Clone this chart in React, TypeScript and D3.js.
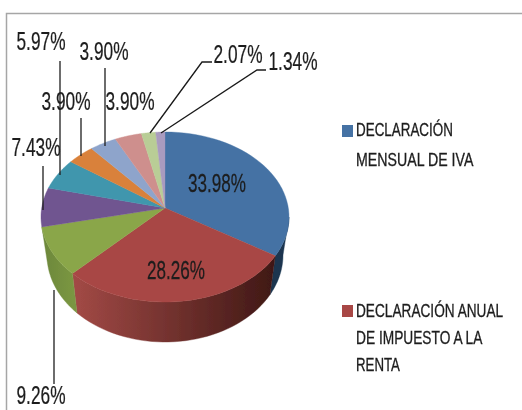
import React from "react";
import * as d3 from "d3";

const values = [33.98, 28.26, 9.26, 7.43, 5.97, 3.9, 3.9, 3.9, 2.07, 1.34];
const valueLabels = ["33.98%", "28.26%", "9.26%", "7.43%", "5.97%", "3.90%", "3.90%", "3.90%", "2.07%", "1.34%"];
const legendFirst = ["DECLARACIÓN", "MENSUAL DE IVA"];
const legendSecond = ["DECLARACIÓN ANUAL", "DE IMPUESTO A LA", "RENTA"];

const colors = ["#4472a4", "#a84744", "#8aa64a", "#6f5490", "#3f96ad", "#d9813a", "#8ea4cb", "#ce8f8d", "#b9cd96", "#a99bbf"];
const wallStops: Record<number, [string, string]> = {
  0: ["#1a3550", "#1a3550"],
  1: ["#a34a46", "#3f1815"],
  2: ["#6c873a", "#7a9642"],
};

// label placement, same order as values: centre x, centre y, leader points
const labelLayout: { x: number; y: number; leader?: [number, number][] }[] = [
  { x: 217, y: 183 },
  { x: 176, y: 270 },
  { x: 41, y: 395, leader: [[54, 290], [54, 384]] },
  { x: 36, y: 147, leader: [[43, 166], [43, 210]] },
  { x: 41, y: 41, leader: [[60, 61], [60, 175]] },
  { x: 66, y: 101, leader: [[81, 118], [81, 156]] },
  { x: 104, y: 51, leader: [[105, 68], [105, 146]] },
  { x: 130, y: 101 },
  { x: 238, y: 54, leader: [[212, 62], [202, 62], [150, 133]] },
  { x: 293, y: 61, leader: [[266, 70], [257, 70], [161, 133]] },
];

const cx = 165, cy = 217, rx = 124, ry = 85;
const bottomRim = { cx: 165, cy: 255, rx: 118, ry: 87 };
const apex: [number, number] = [165, 208];
const FONT = "'Liberation Sans',Arial,sans-serif";

const measureCtx = document.createElement("canvas").getContext("2d")!;
const xScaleFor = (text: string, size: number, target: number) => {
  measureCtx.font = `${size}px ${FONT}`;
  return target / measureCtx.measureText(text).width;
};

// perspective: a slice boundary is a ray from the off-centre apex, hitting the top ellipse
const rimParam = (a: number) => {
  const dx = Math.sin(a), dy = -Math.cos(a);
  const off = (apex[1] - cy) / ry;
  const B = 2 * dy * off;
  const C = off * off - 1;
  const t = (-B + Math.sqrt(B * B - 4 * C)) / 2;
  const b = Math.atan2(t * dx, -(off + t * dy));
  return b < -1e-9 ? b + 2 * Math.PI : Math.max(0, b);
};
const rimPoints = (b0: number, b1: number, e = { cx, cy, rx, ry }) =>
  d3.range(0, 41).map((i): [number, number] => {
    const b = b0 + ((b1 - b0) * i) / 40;
    return [e.cx + e.rx * Math.sin(b), e.cy - e.ry * Math.cos(b)];
  });

function Label(props: { text: string; x: number; y: number; size: number; width: number; anchor: string; sw: number }) {
  const { text, x, y, size, width, anchor, sw } = props;
  const sx = xScaleFor(text, size, width);
  return (
    <text
      transform={`translate(${x},${y}) scale(${sx},1)`}
      textAnchor={anchor}
      dominantBaseline="central"
      fontFamily={FONT}
      fontSize={size}
      fill="#1c1c1c"
      stroke="#1c1c1c"
      strokeWidth={sw}
    >
      {text}
    </text>
  );
}

export default function App() {
  const arcs = d3.pie<number>().sort(null).value((d) => d)(values);
  const params = arcs.map((a) => ({
    b0: rimParam(a.startAngle),
    b1: a.endAngle >= 2 * Math.PI - 1e-6 ? 2 * Math.PI : rimParam(a.endAngle),
  }));
  const line = d3.line();
  const leader = d3.line().curve(d3.curveLinear);

  const walls = params
    .map((p, i) => {
      if (!wallStops[i]) return null;
      const from = Math.max(p.b0, Math.PI / 2);
      const to = p.b1;
      const pts = [...rimPoints(from, to), ...rimPoints(from, to, bottomRim).reverse()];
      return { i, d: line(pts) + "Z", x0: rimPoints(to, to)[0][0], x1: rimPoints(from, from)[0][0] };
    })
    .filter(Boolean) as { i: number; d: string; x0: number; x1: number }[];

  return (
    <svg
      width={522}
      height={410}
      viewBox="0 0 522 410"
      style={{ position: "absolute", left: 0, top: 0, background: "#fff" }}
    >
      <defs>
        <filter id="soft" x="-5%" y="-5%" width="110%" height="110%">
          <feGaussianBlur stdDeviation="0.55" />
        </filter>
        {walls.map((w) => (
          <linearGradient key={w.i} id={`wall${w.i}`} gradientUnits="userSpaceOnUse" x1={w.x0} x2={w.x1} y1={0} y2={0}>
            <stop offset="0" stopColor={wallStops[w.i][0]} />
            <stop offset="1" stopColor={wallStops[w.i][1]} />
          </linearGradient>
        ))}
      </defs>

      <path d="M522,13.5H6.5V410" fill="none" stroke="#a6a6a6" strokeWidth={1.5} filter="url(#soft)" />
      <path d="M4.5,15V410" fill="none" stroke="#cfe0f2" strokeWidth={2} filter="url(#soft)" />

      <g filter="url(#soft)">
        {walls.map((w) => (
          <path key={w.i} d={w.d} fill={`url(#wall${w.i})`} stroke={`url(#wall${w.i})`} strokeWidth={0.4} />
        ))}
        {params.map((p, i) => (
          <path
            key={i}
            d={line([apex, ...rimPoints(p.b0, p.b1)]) + "Z"}
            fill={colors[i]}
            stroke={colors[i]}
            strokeWidth={0.4}
          />
        ))}
      </g>

      <g filter="url(#soft)">
        {labelLayout.map((l, i) =>
          l.leader ? (
            <path key={i} d={leader(l.leader) as string} fill="none" stroke="#1a1a1a" strokeWidth={1.3} />
          ) : null
        )}
        {valueLabels.map((t, i) => (
          <Label
            key={i}
            text={t}
            x={labelLayout[i].x}
            y={labelLayout[i].y}
            size={26}
            width={i < 2 ? 58 : 49}
            anchor="middle"
            sw={0.25}
          />
        ))}

        <rect x={342} y={125} width={11} height={12} fill={colors[0]} />
        {legendFirst.map((t, i) => (
          <Label key={t} text={t} x={356} y={130 + i * 29} size={18} width={[97, 118][i]} anchor="start" sw={0.3} />
        ))}

        <rect x={342} y={305} width={11} height={12} fill={colors[1]} />
        {legendSecond.map((t, i) => (
          <Label key={t} text={t} x={356} y={311 + i * 27} size={18} width={[148, 128, 44][i]} anchor="start" sw={0.3} />
        ))}
      </g>
    </svg>
  );
}
